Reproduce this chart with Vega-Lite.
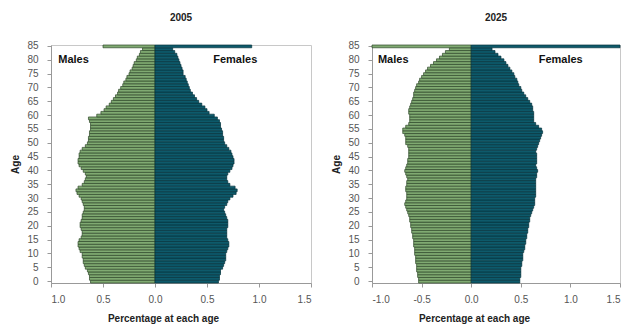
{
  "$schema": "https://vega.github.io/schema/vega-lite/v6.json",
  "background": "white",
  "padding": {"left": 10, "top": 12, "right": 0, "bottom": 2},
  "spacing": 19,
  "config": {
    "font": "Liberation Sans",
    "view": {"stroke": "#c8c8c8", "strokeWidth": 1},
    "axis": {"grid": false, "domainColor": "#999", "tickColor": "#999", "labelColor": "#555", "labelFont": "Liberation Sans", "labelFontSize": 10, "titleFont": "Liberation Sans", "titleFontSize": 10, "titleFontWeight": "bold", "titleColor": "#222", "tickSize": 4},
    "title": {"font": "Liberation Sans", "fontSize": 10, "fontWeight": "bold", "color": "#222", "offset": 18}
  },
  "datasets": {
    "y2005": [
      {"age":0,"m":-0.62,"f":0.61},{"age":1,"m":-0.63,"f":0.62},{"age":2,"m":-0.63,"f":0.62},{"age":3,"m":-0.64,"f":0.63},{"age":4,"m":-0.65,"f":0.63},
      {"age":5,"m":-0.67,"f":0.65},{"age":6,"m":-0.68,"f":0.66},{"age":7,"m":-0.69,"f":0.67},{"age":8,"m":-0.69,"f":0.68},{"age":9,"m":-0.70,"f":0.68},
      {"age":10,"m":-0.70,"f":0.68},{"age":11,"m":-0.72,"f":0.69},{"age":12,"m":-0.73,"f":0.70},{"age":13,"m":-0.74,"f":0.71},{"age":14,"m":-0.74,"f":0.71},
      {"age":15,"m":-0.73,"f":0.70},{"age":16,"m":-0.71,"f":0.69},{"age":17,"m":-0.70,"f":0.69},{"age":18,"m":-0.70,"f":0.69},{"age":19,"m":-0.71,"f":0.69},
      {"age":20,"m":-0.72,"f":0.70},{"age":21,"m":-0.72,"f":0.70},{"age":22,"m":-0.71,"f":0.70},{"age":23,"m":-0.70,"f":0.69},{"age":24,"m":-0.70,"f":0.68},
      {"age":25,"m":-0.69,"f":0.67},{"age":26,"m":-0.68,"f":0.66},{"age":27,"m":-0.68,"f":0.67},{"age":28,"m":-0.69,"f":0.69},{"age":29,"m":-0.70,"f":0.70},
      {"age":30,"m":-0.71,"f":0.72},{"age":31,"m":-0.73,"f":0.75},{"age":32,"m":-0.75,"f":0.78},{"age":33,"m":-0.76,"f":0.79},{"age":34,"m":-0.74,"f":0.77},
      {"age":35,"m":-0.70,"f":0.72},{"age":36,"m":-0.68,"f":0.70},{"age":37,"m":-0.67,"f":0.69},{"age":38,"m":-0.66,"f":0.69},{"age":39,"m":-0.67,"f":0.70},
      {"age":40,"m":-0.69,"f":0.72},{"age":41,"m":-0.71,"f":0.74},{"age":42,"m":-0.73,"f":0.75},{"age":43,"m":-0.74,"f":0.76},{"age":44,"m":-0.74,"f":0.76},
      {"age":45,"m":-0.73,"f":0.75},{"age":46,"m":-0.73,"f":0.74},{"age":47,"m":-0.72,"f":0.73},{"age":48,"m":-0.70,"f":0.71},{"age":49,"m":-0.67,"f":0.69},
      {"age":50,"m":-0.65,"f":0.67},{"age":51,"m":-0.64,"f":0.66},{"age":52,"m":-0.64,"f":0.66},{"age":53,"m":-0.63,"f":0.65},{"age":54,"m":-0.63,"f":0.65},
      {"age":55,"m":-0.62,"f":0.64},{"age":56,"m":-0.62,"f":0.63},{"age":57,"m":-0.62,"f":0.63},{"age":58,"m":-0.63,"f":0.62},{"age":59,"m":-0.64,"f":0.60},
      {"age":60,"m":-0.56,"f":0.57},{"age":61,"m":-0.52,"f":0.52},{"age":62,"m":-0.49,"f":0.50},{"age":63,"m":-0.47,"f":0.48},{"age":64,"m":-0.44,"f":0.45},
      {"age":65,"m":-0.42,"f":0.42},{"age":66,"m":-0.40,"f":0.40},{"age":67,"m":-0.38,"f":0.38},{"age":68,"m":-0.36,"f":0.36},{"age":69,"m":-0.35,"f":0.34},
      {"age":70,"m":-0.33,"f":0.33},{"age":71,"m":-0.31,"f":0.32},{"age":72,"m":-0.30,"f":0.31},{"age":73,"m":-0.28,"f":0.30},{"age":74,"m":-0.27,"f":0.29},
      {"age":75,"m":-0.25,"f":0.27},{"age":76,"m":-0.24,"f":0.27},{"age":77,"m":-0.22,"f":0.26},{"age":78,"m":-0.21,"f":0.25},{"age":79,"m":-0.20,"f":0.24},
      {"age":80,"m":-0.18,"f":0.23},{"age":81,"m":-0.17,"f":0.22},{"age":82,"m":-0.15,"f":0.21},{"age":83,"m":-0.14,"f":0.19},{"age":84,"m":-0.12,"f":0.17},
      {"age":85,"m":-0.50,"f":0.93}
    ],
    "y2025": [
      {"age":0,"m":-0.53,"f":0.49},{"age":1,"m":-0.53,"f":0.49},{"age":2,"m":-0.54,"f":0.50},{"age":3,"m":-0.54,"f":0.50},{"age":4,"m":-0.55,"f":0.50},
      {"age":5,"m":-0.55,"f":0.50},{"age":6,"m":-0.55,"f":0.51},{"age":7,"m":-0.56,"f":0.51},{"age":8,"m":-0.56,"f":0.52},{"age":9,"m":-0.56,"f":0.52},
      {"age":10,"m":-0.57,"f":0.52},{"age":11,"m":-0.57,"f":0.53},{"age":12,"m":-0.57,"f":0.54},{"age":13,"m":-0.58,"f":0.54},{"age":14,"m":-0.58,"f":0.55},
      {"age":15,"m":-0.58,"f":0.55},{"age":16,"m":-0.59,"f":0.56},{"age":17,"m":-0.59,"f":0.56},{"age":18,"m":-0.60,"f":0.57},{"age":19,"m":-0.60,"f":0.57},
      {"age":20,"m":-0.61,"f":0.58},{"age":21,"m":-0.61,"f":0.58},{"age":22,"m":-0.62,"f":0.59},{"age":23,"m":-0.62,"f":0.59},{"age":24,"m":-0.63,"f":0.60},
      {"age":25,"m":-0.64,"f":0.61},{"age":26,"m":-0.65,"f":0.62},{"age":27,"m":-0.66,"f":0.63},{"age":28,"m":-0.67,"f":0.64},{"age":29,"m":-0.66,"f":0.64},
      {"age":30,"m":-0.65,"f":0.64},{"age":31,"m":-0.65,"f":0.65},{"age":32,"m":-0.65,"f":0.65},{"age":33,"m":-0.66,"f":0.65},{"age":34,"m":-0.66,"f":0.65},
      {"age":35,"m":-0.65,"f":0.65},{"age":36,"m":-0.65,"f":0.65},{"age":37,"m":-0.64,"f":0.65},{"age":38,"m":-0.65,"f":0.66},{"age":39,"m":-0.66,"f":0.66},
      {"age":40,"m":-0.67,"f":0.67},{"age":41,"m":-0.66,"f":0.66},{"age":42,"m":-0.65,"f":0.65},{"age":43,"m":-0.64,"f":0.66},{"age":44,"m":-0.64,"f":0.66},
      {"age":45,"m":-0.63,"f":0.66},{"age":46,"m":-0.63,"f":0.66},{"age":47,"m":-0.63,"f":0.65},{"age":48,"m":-0.63,"f":0.66},{"age":49,"m":-0.64,"f":0.67},
      {"age":50,"m":-0.66,"f":0.68},{"age":51,"m":-0.66,"f":0.69},{"age":52,"m":-0.66,"f":0.70},{"age":53,"m":-0.67,"f":0.71},{"age":54,"m":-0.69,"f":0.72},
      {"age":55,"m":-0.69,"f":0.71},{"age":56,"m":-0.66,"f":0.68},{"age":57,"m":-0.63,"f":0.65},{"age":58,"m":-0.62,"f":0.63},{"age":59,"m":-0.62,"f":0.63},
      {"age":60,"m":-0.62,"f":0.63},{"age":61,"m":-0.63,"f":0.63},{"age":62,"m":-0.63,"f":0.62},{"age":63,"m":-0.62,"f":0.62},{"age":64,"m":-0.61,"f":0.61},
      {"age":65,"m":-0.60,"f":0.59},{"age":66,"m":-0.59,"f":0.57},{"age":67,"m":-0.58,"f":0.55},{"age":68,"m":-0.58,"f":0.53},{"age":69,"m":-0.57,"f":0.51},
      {"age":70,"m":-0.56,"f":0.50},{"age":71,"m":-0.55,"f":0.48},{"age":72,"m":-0.53,"f":0.47},{"age":73,"m":-0.52,"f":0.46},{"age":74,"m":-0.50,"f":0.44},
      {"age":75,"m":-0.48,"f":0.43},{"age":76,"m":-0.46,"f":0.41},{"age":77,"m":-0.44,"f":0.39},{"age":78,"m":-0.41,"f":0.37},{"age":79,"m":-0.38,"f":0.35},
      {"age":80,"m":-0.35,"f":0.33},{"age":81,"m":-0.32,"f":0.30},{"age":82,"m":-0.29,"f":0.27},{"age":83,"m":-0.26,"f":0.24},{"age":84,"m":-0.22,"f":0.21},
      {"age":85,"m":-1.0,"f":1.5}
    ]
  },
  "hconcat": [
    {
      "title": {"text": "2005"},
      "width": 260,
      "height": 238,
      "layer": [
        {
          "data": {"name": "y2005"},
          "mark": {"type": "bar", "fill": "#80aa72", "stroke": "#2e4829", "strokeWidth": 0.7},
          "encoding": {
            "y": {"field": "age", "type": "ordinal", "sort": "descending", "scale": {"paddingInner": 0, "paddingOuter": 0},
                  "axis": {"title": "Age", "values": [0,5,10,15,20,25,30,35,40,45,50,55,60,65,70,75,80,85], "labelPadding": 9, "titlePadding": 6, "labelAngle": 0}},
            "x": {"field": "m", "type": "quantitative", "scale": {"domain": [-1, 1.5], "nice": false},
                  "axis": {"title": "Percentage at each age", "values": [-1, -0.5, 0, 0.5, 1, 1.5], "labelExpr": "format(abs(datum.value), '.1f')", "labelPadding": 7, "titlePadding": 9, "titleX": 112}}
          }
        },
        {
          "data": {"name": "y2005"},
          "mark": {"type": "bar", "fill": "#0e5a6b", "stroke": "#06343e", "strokeWidth": 0.7},
          "encoding": {
            "y": {"field": "age", "type": "ordinal", "sort": "descending"},
            "x": {"field": "f", "type": "quantitative"}
          }
        },
        {
          "data": {"values": [{"age": 80, "v": -0.93, "label": "Males"}, {"age": 80, "v": 0.56, "label": "Females"}]},
          "mark": {"type": "text", "align": "left", "baseline": "middle", "fontWeight": "bold", "fontSize": 11, "color": "#111"},
          "encoding": {
            "y": {"field": "age", "type": "ordinal", "sort": "descending"},
            "x": {"field": "v", "type": "quantitative"},
            "text": {"field": "label"}
          }
        }
      ]
    },
    {
      "title": {"text": "2025"},
      "width": 248,
      "height": 238,
      "layer": [
        {
          "data": {"name": "y2025"},
          "mark": {"type": "bar", "fill": "#80aa72", "stroke": "#2e4829", "strokeWidth": 0.7},
          "encoding": {
            "y": {"field": "age", "type": "ordinal", "sort": "descending", "scale": {"paddingInner": 0, "paddingOuter": 0},
                  "axis": {"title": "Age", "values": [0,5,10,15,20,25,30,35,40,45,50,55,60,65,70,75,80,85], "labelPadding": 9, "titlePadding": 6, "labelAngle": 0}},
            "x": {"field": "m", "type": "quantitative", "scale": {"domain": [-1, 1.5], "nice": false},
                  "axis": {"title": "Percentage at each age", "values": [-1, -0.5, 0, 0.5, 1, 1.5], "labelExpr": "datum.value < 0 ? '-' + format(-datum.value, '.1f') : format(datum.value, '.1f')", "labelPadding": 7, "titlePadding": 9, "titleX": 102}}
          }
        },
        {
          "data": {"name": "y2025"},
          "mark": {"type": "bar", "fill": "#0e5a6b", "stroke": "#06343e", "strokeWidth": 0.7},
          "encoding": {
            "y": {"field": "age", "type": "ordinal", "sort": "descending"},
            "x": {"field": "f", "type": "quantitative"}
          }
        },
        {
          "data": {"values": [{"age": 80, "v": -0.94, "label": "Males"}, {"age": 80, "v": 0.68, "label": "Females"}]},
          "mark": {"type": "text", "align": "left", "baseline": "middle", "fontWeight": "bold", "fontSize": 11, "color": "#111"},
          "encoding": {
            "y": {"field": "age", "type": "ordinal", "sort": "descending"},
            "x": {"field": "v", "type": "quantitative"},
            "text": {"field": "label"}
          }
        }
      ]
    }
  ]
}
